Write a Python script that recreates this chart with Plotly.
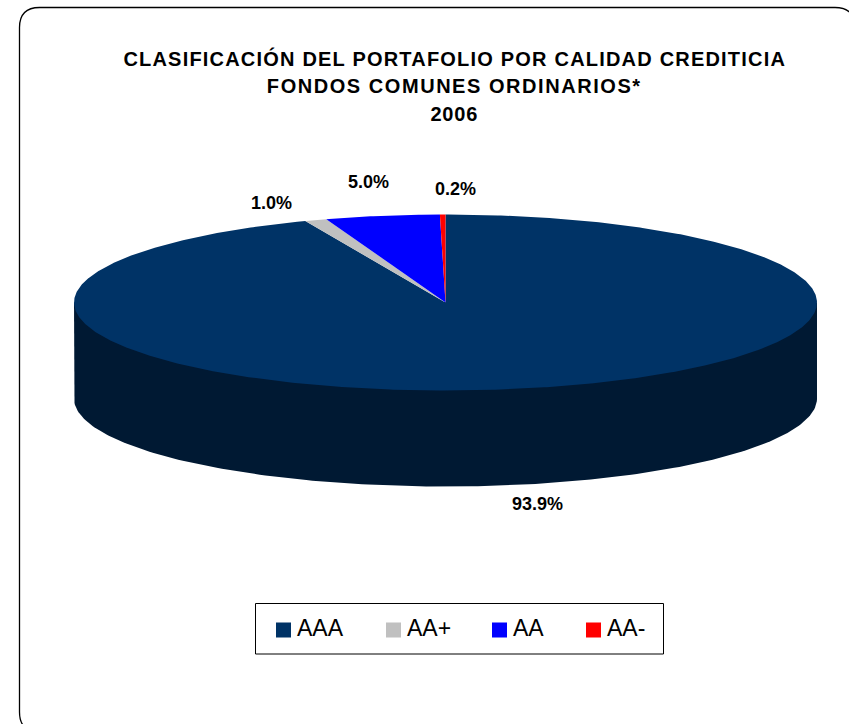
import numpy as np
import plotly.graph_objects as go

categories = ["AAA", "AA+", "AA", "AA-"]
values = [93.85, 0.96, 4.96, 0.24]
labels = ["93.9%", "1.0%", "5.0%", "0.2%"]
colors = ["#003366", "#C0C0C0", "#0000FF", "#FF0000"]
side_color = "#001933"
title_lines = ["CLASIFICACIÓN DEL PORTAFOLIO POR CALIDAD CREDITICIA",
               "FONDOS COMUNES ORDINARIOS*", "2006"]

W, H = 849, 724
CX, CY, RX, RY, DEPTH = 445.5, 302.5, 371.5, 88, 96
FONT = "Liberation Sans"

def ellipse(angles, dy=0):
    return CX + RX*np.sin(angles), CY + dy - RY*np.cos(angles)

fig = go.Figure()

# rim of the disc: runs behind the top face so no seam shows
t = np.linspace(3*np.pi/2, np.pi/2, 181)
xb, yb = ellipse(t, DEPTH)
fig.add_trace(go.Scatter(x=np.r_[CX-RX, xb, CX+RX], y=np.r_[CY, yb, CY], mode="lines", fill="toself",
                         fillcolor=side_color, line=dict(width=0), showlegend=False, hoverinfo="skip"))

# slices, clockwise from 12 o'clock
total = sum(values)
start = 0.0
for cat, val, col in zip(categories, values, colors):
    end = start + val/total*2*np.pi
    a = np.linspace(start, end, max(3, int(val*8)))
    ex, ey = ellipse(a)
    fig.add_trace(go.Scatter(x=np.r_[CX, ex, CX], y=np.r_[CY, ey, CY], mode="lines", fill="toself",
                             fillcolor=col, line=dict(width=0), showlegend=False,
                             name=cat, hoverinfo="name"))
    start = end

# legend entries: one small legend per category so the uneven spacing can be kept
legend_text_x = [297, 407, 513, 607]
legend_top = 605.5
legend_layout = {}
for i, (cat, col, tx) in enumerate(zip(categories, colors, legend_text_x)):
    key = "legend" if i == 0 else f"legend{i+1}"
    fig.add_trace(go.Scatter(x=[None], y=[None], mode="markers", name=cat, legend=key,
                             marker=dict(symbol="square", size=15, color=col)))
    legend_layout[key] = dict(x=(tx-40)/W, y=1-legend_top/H, xanchor="left", yanchor="top",
                              borderwidth=0, bgcolor="rgba(0,0,0,0)",
                              font=dict(family=FONT, size=23, color="#000000"))

annotations = []
for line, y in zip(title_lines, [58, 86, 114]):
    annotations.append(dict(x=454, y=y, text=f"<b>{line}</b>", showarrow=False,
                            font=dict(family=FONT, size=20, color="#000000")))
for text, (x, y) in zip(labels, [(537, 504), (271, 203), (368, 182), (455, 189)]):
    annotations.append(dict(x=x, y=y, text=f"<b>{text}</b>", showarrow=False,
                            font=dict(family=FONT, size=18, color="#000000")))

r = 20
L, T, R_, B = 19.5, 7.5, 855, 732
border = (f"M {L+r} {T} L {R_-r} {T} Q {R_} {T} {R_} {T+r} L {R_} {B-r} Q {R_} {B} {R_-r} {B} "
          f"L {L+r} {B} Q {L} {B} {L} {B-r} L {L} {T+r} Q {L} {T} {L+r} {T} Z")

fig.update_layout(
    width=W, height=H, margin=dict(l=0, r=0, t=0, b=0, pad=0), autosize=False,
    paper_bgcolor="white", plot_bgcolor="white",
    xaxis=dict(range=[0, W], visible=False, fixedrange=True),
    yaxis=dict(range=[H, 0], visible=False, fixedrange=True),
    annotations=annotations,
    shapes=[
        dict(type="path", path=border, xref="x", yref="y", line=dict(color="#000000", width=1.3), layer="below"),
        dict(type="rect", x0=255.5, x1=663.5, y0=603.5, y1=654, xref="x", yref="y",
             line=dict(color="#000000", width=1), layer="below"),
    ],
    showlegend=True,
    **legend_layout,
)
post = """
document.body.style.margin = '0';
var st = document.createElement('style');
st.textContent = '.annotation[data-index="0"] .annotation-text {letter-spacing:1.2px;}'
  + '.annotation[data-index="1"] .annotation-text {letter-spacing:1.55px;}'
  + '.annotation[data-index="2"] .annotation-text {letter-spacing:0.8px;}'
  + '.infolayer path.scatterpts {transform: translate(26.5px, 3px);}';
document.head.appendChild(st);
"""
fig.write_html("out.html", post_script=post, config={"displayModeBar": False})
